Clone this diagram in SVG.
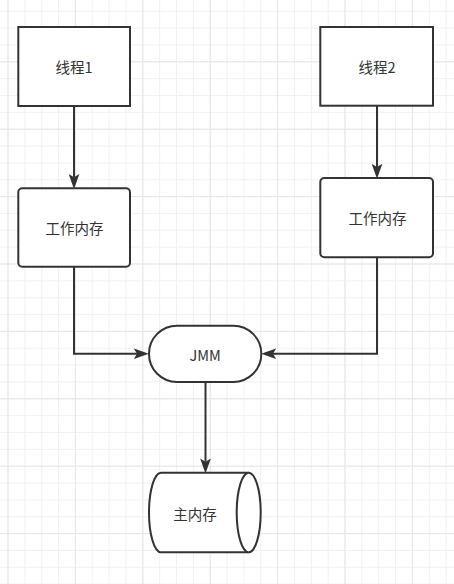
<svg xmlns="http://www.w3.org/2000/svg" width="454" height="584" viewBox="0 0 454 584">
<defs>
<pattern id="minor" x="7.5" y="-6.1" width="16.85" height="16.85" patternUnits="userSpaceOnUse">
<path d="M0.5,0 V16.85 M0,0.5 H16.85" stroke="#f1f1f1" stroke-width="1" fill="none"/>
</pattern>
<pattern id="major" x="7.5" y="-6.1" width="67.4" height="67.4" patternUnits="userSpaceOnUse">
<path d="M0.5,0 V67.4 M0,0.5 H67.4" stroke="#e6e6e6" stroke-width="1" fill="none"/>
</pattern>
<marker id="arr" markerUnits="userSpaceOnUse" markerWidth="15" markerHeight="11" viewBox="0 0 14 10" refX="3" refY="5" orient="auto">
<path d="M0,0 L14,5 L0,10 L3,5 Z" fill="#333333"/>
</marker>
</defs>
<style>
.shape{fill:#ffffff;stroke:#333333;stroke-width:2}
.lbl{font-family:"Noto Sans CJK SC","Liberation Sans",sans-serif;font-size:14.5px;fill:#333333;text-anchor:middle;dominant-baseline:central}
.edge{fill:none;stroke:#333333;stroke-width:2}
</style>
<rect x="0" y="0" width="454" height="584" fill="#ffffff"/>
<rect x="0" y="0" width="454" height="584" fill="url(#minor)"/>
<rect x="0" y="0" width="454" height="584" fill="url(#major)"/>
<g id="connectors">
<path class="edge" d="M74,106 V177.3" marker-end="url(#arr)"/>
<path class="edge" d="M377,105.7 V167" marker-end="url(#arr)"/>
<path class="edge" d="M74,266.7 V353.7 H137" marker-end="url(#arr)"/>
<path class="edge" d="M377,257.3 V353.7 H273" marker-end="url(#arr)"/>
<path class="edge" d="M205.5,382 V461.7" marker-end="url(#arr)"/>
</g>
<g id="thread1">
<rect class="shape" x="18.3" y="27" width="111.7" height="79"/>
<text class="lbl" x="74" y="66.5">线程1</text>
</g>
<g id="thread2">
<rect class="shape" x="320.3" y="27" width="112.7" height="78.7"/>
<text class="lbl" x="377" y="66.5">线程2</text>
</g>
<g id="workmem1">
<rect class="shape" x="18.3" y="188.3" width="111.7" height="78.4" rx="4" ry="4"/>
<text class="lbl" x="74.5" y="227.5">工作内存</text>
</g>
<g id="workmem2">
<rect class="shape" x="320.3" y="178" width="112.7" height="79.3" rx="4" ry="4"/>
<text class="lbl" x="377.5" y="217.5">工作内存</text>
</g>
<g id="jmm">
<rect class="shape" x="149" y="325.7" width="112.3" height="56.3" rx="28" ry="28"/>
<text class="lbl" x="205.2" y="354" font-family="'Liberation Sans','Noto Sans CJK SC',sans-serif">JMM</text>
</g>
<g id="mainmem">
<path class="shape" d="M161,472.7 H248.7 A12,39.8 0 0 1 248.7,552.3 H161 A12,39.8 0 0 1 161,472.7 Z"/>
<path class="shape" d="M248.7,472.7 A12,39.8 0 0 0 248.7,552.3" fill="none"/>
<text class="lbl" x="195" y="513">主内存</text>
</g>
</svg>
